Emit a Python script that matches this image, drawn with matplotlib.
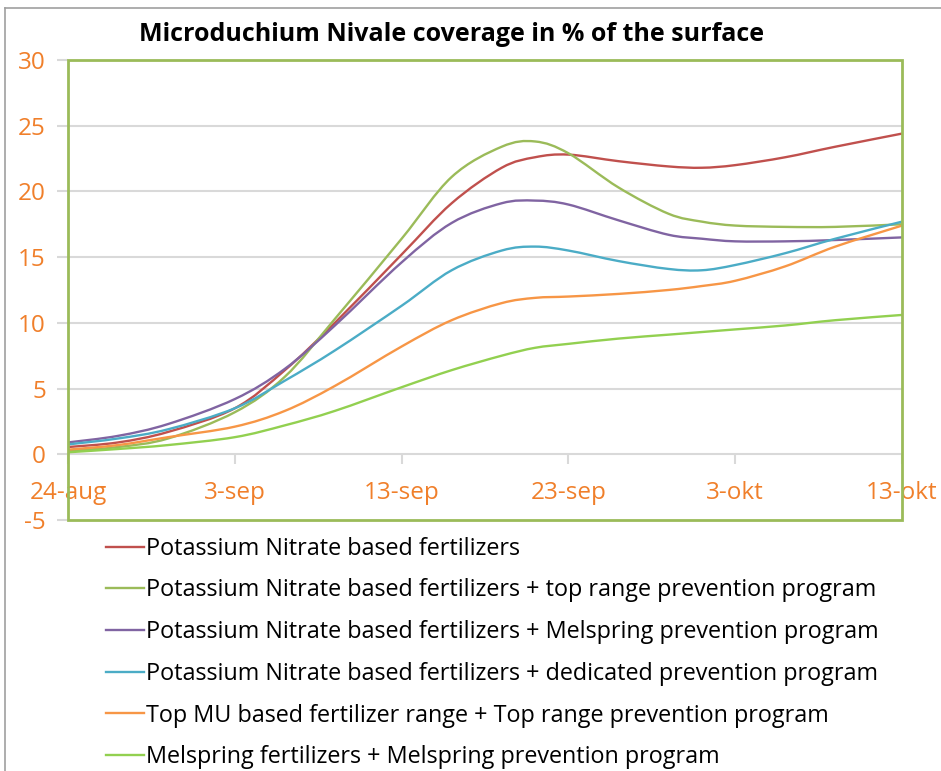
import matplotlib.pyplot as plt
from matplotlib.lines import Line2D
from matplotlib.patches import Rectangle, PathPatch
from matplotlib.path import Path

plt.rcParams['font.family'] = ['Open Sans', 'DejaVu Sans']
plt.rcParams['axes.unicode_minus'] = False

days = [0, 3, 6, 10, 13, 16, 20, 23, 26, 28, 30, 33, 36, 38, 40, 43, 46, 50]

kno3 = [0.55, 0.9, 1.7, 3.5, 6.4, 10.0, 15.2, 19.1, 21.8, 22.6, 22.8, 22.3, 21.9, 21.8, 22.0, 22.6, 23.4, 24.4]
kno3_top = [0.25, 0.55, 1.2, 3.2, 5.9, 10.3, 16.4, 21.1, 23.4, 23.8, 22.9, 20.3, 18.3, 17.7, 17.4, 17.3, 17.3, 17.5]
kno3_mel = [0.9, 1.4, 2.3, 4.2, 6.5, 9.8, 14.6, 17.6, 19.1, 19.3, 19.0, 17.8, 16.7, 16.4, 16.2, 16.2, 16.3, 16.5]
kno3_ded = [0.75, 1.2, 1.9, 3.5, 5.6, 7.9, 11.3, 14.0, 15.5, 15.8, 15.5, 14.7, 14.1, 14.0, 14.4, 15.3, 16.4, 17.7]
mu_top = [0.35, 0.7, 1.3, 2.1, 3.3, 5.2, 8.2, 10.2, 11.5, 11.9, 12.0, 12.2, 12.5, 12.8, 13.2, 14.3, 15.8, 17.4]
mel_mel = [0.15, 0.4, 0.7, 1.3, 2.2, 3.3, 5.1, 6.4, 7.5, 8.1, 8.4, 8.8, 9.1, 9.3, 9.5, 9.8, 10.2, 10.6]

series = [
    ('Potassium Nitrate based fertilizers', kno3, '#c0504d'),
    ('Potassium Nitrate based fertilizers + top range prevention program', kno3_top, '#9bbb59'),
    ('Potassium Nitrate based fertilizers + Melspring prevention program', kno3_mel, '#8064a2'),
    ('Potassium Nitrate based fertilizers + dedicated prevention program', kno3_ded, '#4bacc6'),
    ('Top MU based fertilizer range + Top range prevention program', mu_top, '#f79646'),
    ('Melspring fertilizers + Melspring prevention program', mel_mel, '#92d050'),
]

tick_days = [0, 10, 20, 30, 40, 50]
tick_labels = ['24-aug', '3-sep', '13-sep', '23-sep', '3-okt', '13-okt']

orange = '#f07f2a'
grid = '#d9d9d9'


def smooth_path(xs, ys):
    # excel style smoothed line: cubic bezier through every data point
    n = len(xs)
    verts = [(xs[0], ys[0])]
    codes = [Path.MOVETO]
    for i in range(n - 1):
        a = max(i - 1, 0)
        b = min(i + 2, n - 1)
        c1 = (xs[i] + (xs[i + 1] - xs[a]) / 6, ys[i] + (ys[i + 1] - ys[a]) / 6)
        c2 = (xs[i + 1] - (xs[b] - xs[i]) / 6, ys[i + 1] - (ys[b] - ys[i]) / 6)
        verts += [c1, c2, (xs[i + 1], ys[i + 1])]
        codes += [Path.CURVE4] * 3
    return Path(verts, codes)


fig = plt.figure(figsize=(9.41, 7.71), dpi=100)
ax = fig.add_axes([0.0723, 0.3256, 0.8863, 0.5966])

handles = []
for name, vals, col in series:
    ax.add_patch(PathPatch(smooth_path(days, vals), fill=False, edgecolor=col,
                           lw=1.7, zorder=3))
    handles.append(Line2D([], [], color=col, lw=1.7, label=name))

ax.set_xlim(0, 50)
ax.set_ylim(-5, 30)
ax.set_yticks(range(-5, 31, 5))
ax.set_xticks(tick_days)
ax.set_xticklabels(tick_labels)

for y in range(5, 31, 5):
    ax.axhline(y, color=grid, lw=1.5, zorder=1)

for s in ['top', 'right', 'left']:
    ax.spines[s].set_visible(False)
ax.spines['bottom'].set_position(('data', 0))
ax.spines['bottom'].set_color(grid)
ax.spines['bottom'].set_linewidth(1.5)

ax.tick_params(axis='x', colors=grid, labelcolor=orange, labelsize=17.5,
               length=7, width=1.5, pad=12)
ax.tick_params(axis='y', colors=grid, labelcolor=orange, labelsize=17.5,
               length=8, width=1.5, pad=8)

# green plot-area frame
ax.add_patch(Rectangle((0, 0), 1, 1, transform=ax.transAxes, fill=False,
                       edgecolor='#9bbb59', lw=2, zorder=4, clip_on=False))

fig.suptitle('Microduchium Nivale coverage in % of the surface',
             x=0.48, y=0.972, fontsize=18, fontweight='bold')

# outer chart border (left and top)
fig.add_artist(Line2D([0.005, 0.005], [0, 0.99], color='#a0a0a0', lw=1.2))
fig.add_artist(Line2D([0.005, 1], [0.99, 0.99], color='#a0a0a0', lw=1.2))

fig.legend(handles=handles, loc='upper left', bbox_to_anchor=(0.103, 0.316),
           frameon=False, fontsize=16.8, handlelength=1.6, handletextpad=0.1,
           labelspacing=0.76, borderaxespad=0)

fig.savefig('out.png', dpi=100)
